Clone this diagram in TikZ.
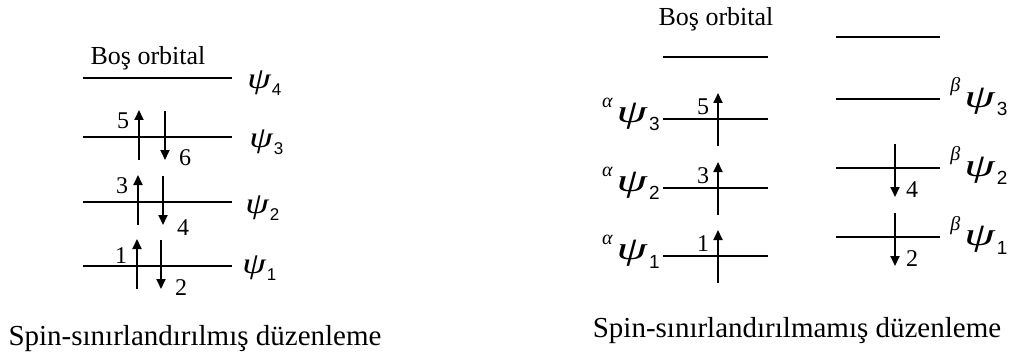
\documentclass[tikz,border=0pt]{standalone}
\usepackage{fontspec}
\setmainfont{Liberation Serif}
\setsansfont{Liberation Sans}
\usepackage{graphicx}
\usetikzlibrary{arrows.meta}
\newcommand{\psiL}[1]{\scalebox{1.35}[1.05]{\itshape ψ}\kern0.5pt\raisebox{-3.5pt}{\fontsize{8.5}{8.5}\sffamily #1}}
\newcommand{\psiR}[2]{\raisebox{7.5pt}{\fontsize{10}{10}\itshape #1}\kern2pt\scalebox{1.75}[1.15]{\itshape ψ}\kern1pt\raisebox{-4.5pt}{\fontsize{9.5}{9.5}\sffamily #2}}

\begin{document}
\begin{tikzpicture}[x=0.5pt, y=-0.5pt]
  \tikzstyle{level} = [draw, line width=0.9pt]
  \tikzstyle{spin} = [draw, line width=0.9pt, -{Triangle[length=5pt,width=4.5pt]}]
  \tikzstyle{num} = [font=\fontsize{12}{12}\selectfont, inner sep=0pt]
  \tikzstyle{orb} = [font=\fontsize{14}{14}\selectfont, inner sep=0pt]
  \tikzstyle{caption} = [font=\fontsize{14.5}{15}\selectfont, inner sep=0pt, anchor=base]
  \useasboundingbox (0,0) rectangle (1011,358);

  % spin-restricted
  \node[font=\fontsize{13}{13}\selectfont, inner sep=0pt, anchor=base] (emptyL) at (148,65) {Boş orbital};
  \foreach \y/\n/\x/\dy in {78/4/247/11,137/3/249/11,202/2/245/11,266/1/242/7} {
    \path[level] (83,\y) -- (232,\y);
    \node[orb, anchor=base west] (psiL\n) at (\x,\y+\dy) {\psiL{\n}};
  }
  \foreach \y/\u/\d/\a/\b/\ya/\yb in {266/137/161/1/2/256/288,202/138/163/3/4/186/228,137/139/165/5/6/121/158} {
    \path[spin] (\u,\y+23) -- (\u,\y-27);
    \path[spin] (\d,\y-26) -- (\d,\y+23);
    \node[num] (upL\a) at (\u-16,\ya) {\a};
    \node[num] (dnL\b) at (\d+20,\yb) {\b};
  }

  % spin-unrestricted
  \node[font=\fontsize{13}{13}\selectfont, inner sep=0pt, anchor=base] (emptyR) at (716,26) {Boş orbital};
  \path[level] (663,57) -- (768,57);
  \path[level] (836,37) -- (940,37);
  \foreach \y/\n/\a in {119/3/5,188/2/3,256/1/1} {
    \path[level] (663,\y) -- (768,\y);
    \node[orb, anchor=base east] (alpha\n) at (660,\y+3) {\psiR{α}{\n}};
    \path[spin] (718,\y+27) -- (718,\y-26);
    \node[num] (upR\a) at (703,\y-12) {\a};
  }
  \foreach \y/\n in {99/3,168/2,237/1} {
    \path[level] (836,\y) -- (940,\y);
    \node[orb, anchor=base west] (beta\n) at (950,\y+8) {\psiR{β}{\n}};
  }
  \foreach \y/\b in {168/4,237/2} {
    \path[spin] (895,\y-24) -- (895,\y+29);
    \node[num] (dnR\b) at (912,\y+22) {\b};
  }

  \node[caption] (capL) at (195,345) {Spin-sınırlandırılmış düzenleme};
  \node[caption] (capR) at (797,337) {Spin-sınırlandırılmamış düzenleme};
\end{tikzpicture}
\end{document}
